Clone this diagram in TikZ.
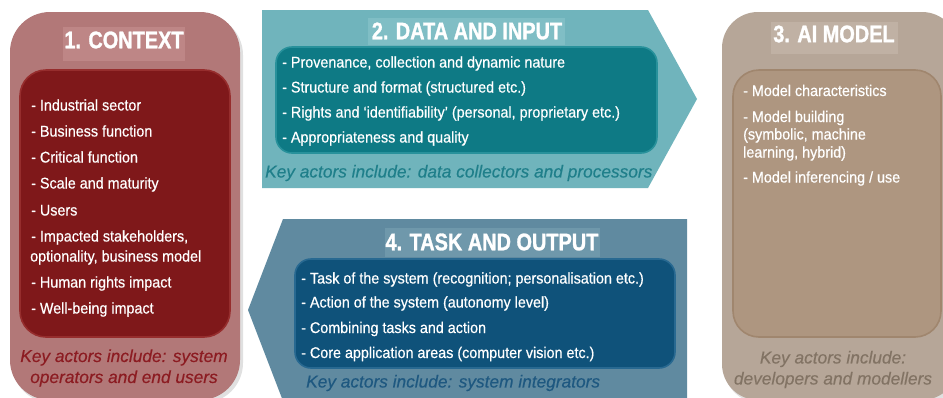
\documentclass[tikz,border=0pt]{standalone}
\usepackage{fontspec}
\setmainfont{Liberation Sans}
\newfontfamily\itemfont{Liberation Sans}[FakeStretch=0.925,FakeBold=0.5]
\newfontfamily\titlefont{Liberation Sans}[FakeStretch=0.83,FakeBold=1.2]
\newfontfamily\keyfont{Liberation Sans}[FakeBold=0.3]
\definecolor{ctxout}{RGB}{178,120,120}
\definecolor{ctxin}{RGB}{127,24,26}
\definecolor{ctxrim}{RGB}{150,45,45}
\definecolor{ctxtit}{RGB}{190,134,134}
\definecolor{ctxkey}{RGB}{140,28,34}
\definecolor{datout}{RGB}{112,180,188}
\definecolor{datin}{RGB}{14,122,133}
\definecolor{datrim}{RGB}{40,145,155}
\definecolor{dattit}{RGB}{128,190,197}
\definecolor{datkey}{RGB}{31,127,138}
\definecolor{tskout}{RGB}{96,138,160}
\definecolor{tskin}{RGB}{15,82,122}
\definecolor{tskrim}{RGB}{40,105,145}
\definecolor{tsktit}{RGB}{111,152,171}
\definecolor{tskkey}{RGB}{30,88,128}
\definecolor{aiout}{RGB}{182,166,152}
\definecolor{aiin}{RGB}{174,150,128}
\definecolor{airim}{RGB}{160,134,110}
\definecolor{aitit}{RGB}{192,177,164}
\definecolor{aikey}{RGB}{130,115,100}
\tikzset{
  itm/.style={anchor=base west, text=white, inner sep=0pt, font=\itemfont\fontsize{15.5}{20}\selectfont},
  ttl/.style={text=white, inner sep=0pt, font=\titlefont\bfseries\fontsize{24}{28}\selectfont},
  keytxt/.style={inner sep=0pt, align=center, font=\keyfont\itshape\fontsize{17.3}{21}\selectfont},
  innerbox/.style={rounded corners=#1, line width=1.6pt},
}
\begin{document}
\begin{tikzpicture}[x=1pt,y=-1pt]
\useasboundingbox (0,0) rectangle (943,397);
\clip (0,0) rectangle (943,397);
\fill[white] (0,0) rectangle (943,397);

% ---------- 1. CONTEXT ----------
\fill[black,opacity=0.12,rounded corners=40] (12,15) rectangle (243,403);
\fill[ctxout,rounded corners=40] (10,12) rectangle (240,400);
\fill[ctxtit] (63,27) rectangle (185,61);
\node[ttl] (t1) at (124,40) {1. CONTEXT};
\draw[innerbox=26, fill=ctxin, draw=ctxrim] (20,70) rectangle (230,337);
\node[itm] (c1) at (31,110.5) {- Industrial sector};
\node[itm] (c2) at (31,136.5) {- Business function};
\node[itm] (c3) at (31,162.5) {- Critical function};
\node[itm] (c4) at (31,188.5) {- Scale and maturity};
\node[itm] (c5) at (31,215.5) {- Users};
\node[itm] (c6a) at (31,241.5) {- Impacted stakeholders,};
\node[itm] (c6b) at (30,261.5) {optionality, business model};
\node[itm] (c7) at (31,287.5) {- Human rights impact};
\node[itm] (c8) at (31,313.5) {- Well-being impact};
\node[keytxt, text=ctxkey] (k1) at (124,368) {Key actors include: system\\operators and end users};

% ---------- 2. DATA AND INPUT ----------
\fill[datout] (262,10) -- (648,10) -- (697,99) -- (648,188) -- (262,188) -- cycle;
\fill[dattit] (368,18) rectangle (565,45);
\node[ttl] (t2) at (467,31) {2. DATA AND INPUT};
\draw[innerbox=16, fill=datin, draw=datrim] (276,47) rectangle (657,153);
\node[itm] (d1) at (282,67.5) {- Provenance, collection and dynamic nature};
\node[itm] (d2) at (282,92.5) {- Structure and format (structured etc.)};
\node[itm] (d3) at (282,117.5) {- Rights and ‘identifiability’ (personal, proprietary etc.)};
\node[itm] (d4) at (282,142.5) {- Appropriateness and quality};
\node[keytxt, text=datkey, anchor=west] (k2) at (265,173) {Key actors include: data collectors and processors};

% ---------- 3. AI MODEL ----------
\fill[black,opacity=0.12,rounded corners=36] (724,15) rectangle (960,403);
\fill[aiout,rounded corners=36] (722,12) rectangle (958,400);
\fill[aitit] (771,22) rectangle (898,54);
\node[ttl] (t3) at (834,34) {3. AI MODEL};
\draw[innerbox=26, fill=aiin, draw=airim] (733,70) rectangle (941,337);
\node[itm] (a1) at (743,96) {- Model characteristics};
\node[itm] (a2a) at (743,122) {- Model building};
\node[itm] (a2b) at (743,139.5) {(symbolic, machine};
\node[itm] (a2c) at (743,157.5) {learning, hybrid)};
\node[itm] (a3) at (743,182.5) {- Model inferencing / use};
\node[keytxt, text=aikey] (k3) at (833,369.5) {Key actors include:\\developers and modellers};

% ---------- 4. TASK AND OUTPUT ----------
\fill[tskout] (687,219) -- (283,219) -- (248,310) -- (283,401) -- (687,401) -- cycle;
\fill[tsktit] (385,228) rectangle (600,257);
\node[ttl] (t4) at (492,242) {4. TASK AND OUTPUT};
\draw[innerbox=16, fill=tskin, draw=tskrim] (295,259) rectangle (675,368);
\node[itm] (o1) at (301,283.5) {- Task of the system (recognition; personalisation etc.)};
\node[itm] (o2) at (301,307.5) {- Action of the system (autonomy level)};
\node[itm] (o3) at (301,333) {- Combining tasks and action};
\node[itm] (o4) at (301,358) {- Core application areas (computer vision etc.)};
\node[keytxt, text=tskkey, anchor=west] (k4) at (306,383) {Key actors include: system integrators};
\end{tikzpicture}
\end{document}
